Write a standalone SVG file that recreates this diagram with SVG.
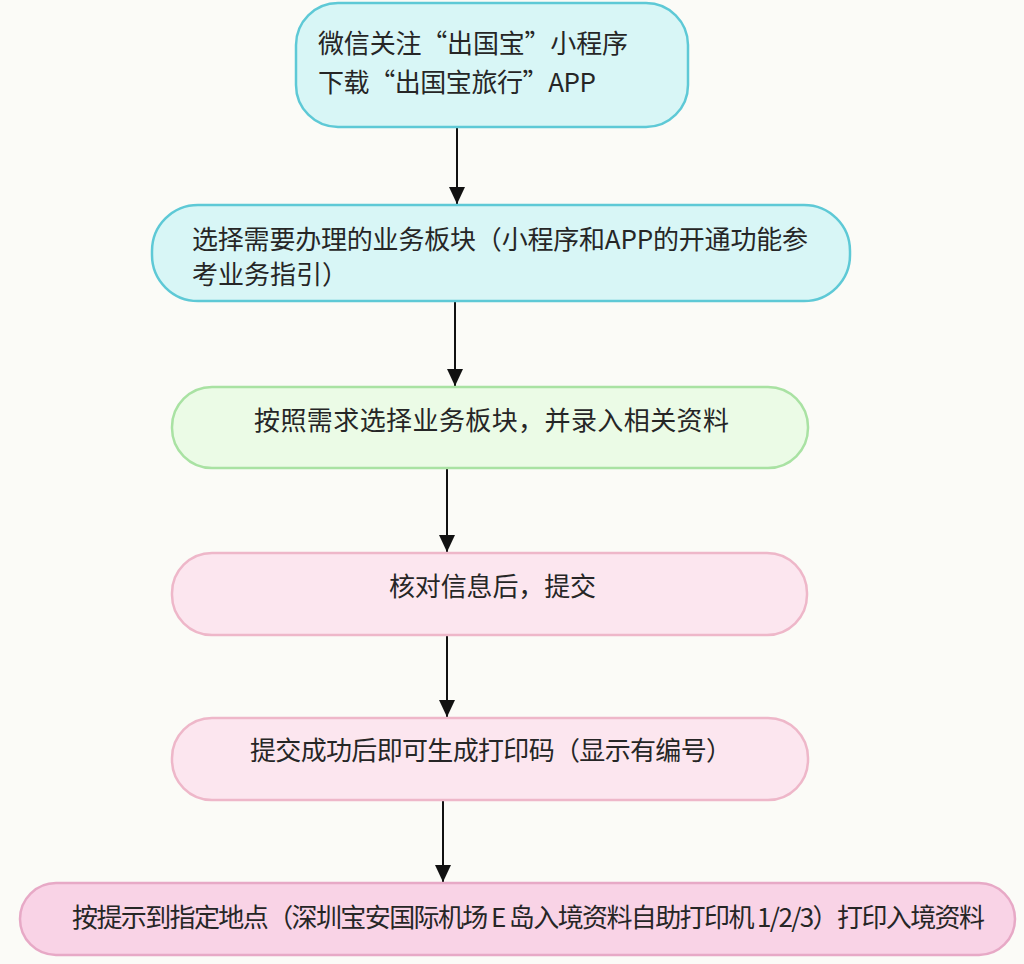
<svg xmlns="http://www.w3.org/2000/svg" width="1024" height="964" viewBox="0 0 1024 964">
<style>
.t{font-family:"Noto Sans CJK SC","Noto Sans",sans-serif;font-size:26px;fill:#262626}
.cy{fill:#d8f6f6;stroke:#5ec9d6;stroke-width:2.5}
.gr{fill:#ebfbe6;stroke:#a9e2a3;stroke-width:2.5}
.pk{fill:#fce6ef;stroke:#eeb7c9;stroke-width:2.5}
.pk2{fill:#f9d3e6;stroke:#e7a9c6;stroke-width:2.5}
.c{stroke:#111;stroke-width:2;fill:none;marker-end:url(#ah)}
</style>
<defs>
<marker id="ah" markerWidth="18" markerHeight="18" refX="17" refY="8" orient="auto" markerUnits="userSpaceOnUse" viewBox="0 0 18 16">
<path d="M0,0 L17,8 L0,16 Z" fill="#111"/>
</marker>
</defs>
<rect width="1024" height="964" fill="#fbfbf7"/>
<g id="connectors">
<line class="c" x1="457" y1="127" x2="457" y2="204"/>
<line class="c" x1="455" y1="301" x2="455" y2="386"/>
<line class="c" x1="447" y1="468" x2="447" y2="552"/>
<line class="c" x1="447" y1="635" x2="447" y2="717"/>
<line class="c" x1="443" y1="800" x2="443" y2="882"/>
</g>
<g id="n1">
<rect class="cy" x="296" y="3" width="392" height="124" rx="42"/>
<text class="t" x="318" y="53" textLength="310">微信关注“出国宝”小程序</text>
<text class="t" x="318" y="92" textLength="278">下载“出国宝旅行”APP</text>
</g>
<g id="n2">
<rect class="cy" x="152" y="205" width="698" height="96" rx="46"/>
<text class="t" x="192" y="249" textLength="616">选择需要办理的业务板块（小程序和APP的开通功能参</text>
<text class="t" x="192" y="284">考业务指引）</text>
</g>
<g id="n3">
<rect class="gr" x="172" y="387" width="636" height="81" rx="40"/>
<text class="t" x="254" y="430" textLength="475">按照需求选择业务板块，并录入相关资料</text>
</g>
<g id="n4">
<rect class="pk" x="172" y="553" width="635" height="82" rx="40"/>
<text class="t" x="389" y="596" textLength="207">核对信息后，提交</text>
</g>
<g id="n5">
<rect class="pk" x="172" y="718" width="636" height="82" rx="40"/>
<text class="t" x="250" y="760" textLength="482">提交成功后即可生成打印码（显示有编号）</text>
</g>
<g id="n6">
<rect class="pk2" x="20" y="883" width="995" height="72" rx="36"/>
<text class="t" x="72" y="927" textLength="913">按提示到指定地点（深圳宝安国际机场 E 岛入境资料自助打印机 1/2/3）打印入境资料</text>
</g>
</svg>
